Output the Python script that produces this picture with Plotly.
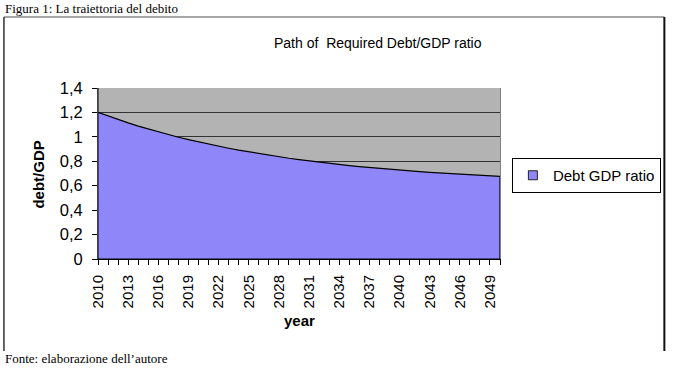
import plotly.graph_objects as go

years = list(range(2010, 2051))
debt_gdp = [1.200, 1.170, 1.141, 1.114, 1.088, 1.064, 1.040, 1.018, 0.997, 0.977,
            0.958, 0.940, 0.923, 0.907, 0.891, 0.877, 0.863, 0.850, 0.837, 0.825,
            0.814, 0.803, 0.793, 0.783, 0.774, 0.765, 0.757, 0.749, 0.741, 0.734,
            0.728, 0.721, 0.715, 0.709, 0.704, 0.699, 0.694, 0.689, 0.684, 0.680,
            0.676]
year_labels = [str(y) if (y - years[0]) % 3 == 0 else "" for y in years]
y_ticks = [0, 0.2, 0.4, 0.6, 0.8, 1.0, 1.2, 1.4]

# closed polygon (area down to zero) built from data
poly_x = years + [years[-1], years[0]]
poly_y = debt_gdp + [0, 0]

W, H = 673, 373
L, R, T, B = 98, 504, 88, 259

def px(x):
    return (x - L) / (R - L)

def py(y):
    return (B - y) / (B - T)

fill_col = "#8F87F9"

fig = go.Figure()
fig.add_trace(go.Scatter(
    x=poly_x, y=poly_y, mode="lines", fill="toself",
    fillcolor=fill_col, line=dict(color="#000000", width=1.2),
    name="Debt GDP ratio", showlegend=False,
))
# legend entry (square swatch)
fig.add_trace(go.Scatter(
    x=[None], y=[None], mode="markers", name="Debt GDP ratio",
    marker=dict(symbol="square", size=9, color=fill_col, line=dict(color="#222222", width=1)),
    showlegend=True,
))

fig.update_layout(
    width=W, height=H,
    margin=dict(l=L, r=W - R, t=T, b=H - B),
    paper_bgcolor="white", plot_bgcolor="#B3B3B3",
    separators=", ",
    font=dict(family="Liberation Sans, Arial, sans-serif", color="black", size=15),
    showlegend=True,
    legend=dict(
        x=px(516), y=py(158), xanchor="left", yanchor="top",
        bordercolor="black", borderwidth=1, bgcolor="white",
        font=dict(size=15), itemwidth=30,
    ),
    xaxis=dict(
        range=[years[0], years[-1]], tickmode="array", tickvals=years, ticktext=year_labels,
        tickangle=-90, ticks="outside", ticklen=5, tickcolor="black",
        showgrid=False, zeroline=False, showline=True, linecolor="black", linewidth=1,
        tickfont=dict(size=15), ticklabelstandoff=4,
    ),
    yaxis=dict(
        range=[0, 1.4], tickmode="array", tickvals=y_ticks,
        ticks="outside", ticklen=5, tickcolor="black",
        showgrid=True, gridcolor="#333333", gridwidth=1,
        zeroline=False, showline=True, linecolor="#808080", mirror=True,
        tickfont=dict(size=16.5), ticklabelstandoff=6,
    ),
    shapes=[
        dict(type="line", xref="paper", yref="paper", x0=0, x1=0, y0=0, y1=1,
             line=dict(color="black", width=1)),
        dict(type="line", xref="paper", yref="paper", x0=px(3), x1=px(670), y0=py(17), y1=py(17),
             line=dict(color="#888888", width=1.5)),
        dict(type="line", xref="paper", yref="paper", x0=px(3), x1=px(3), y0=py(17), y1=py(351),
             line=dict(color="#333333", width=1.5)),
        dict(type="line", xref="paper", yref="paper", x0=px(670), x1=px(670), y0=py(17), y1=py(351),
             line=dict(color="#111111", width=2)),
    ],
    annotations=[
        dict(text="Figura 1: La traiettoria del debito", xref="paper", yref="paper",
             x=px(2), y=py(8), xanchor="left", yanchor="middle", showarrow=False,
             font=dict(family="Liberation Serif, Times New Roman, serif", size=13)),
        dict(text="Fonte: elaborazione dell\u2019autore", xref="paper", yref="paper",
             x=px(2), y=py(358), xanchor="left", yanchor="middle", showarrow=False,
             font=dict(family="Liberation Serif, Times New Roman, serif", size=13)),
        dict(text="Path of  Required Debt/GDP ratio", xref="paper", yref="paper",
             x=px(381), y=py(43), xanchor="center", yanchor="middle", showarrow=False,
             font=dict(size=14)),
        dict(text="<b>debt/GDP</b>", xref="paper", yref="paper",
             x=px(37), y=py(175), xanchor="center", yanchor="middle", showarrow=False,
             textangle=-90, font=dict(size=15)),
        dict(text="<b>year</b>", xref="paper", yref="paper",
             x=px(302), y=py(320), xanchor="center", yanchor="middle", showarrow=False,
             font=dict(size=15)),
    ],
)

fig.write_html("out.html", config={"displayModeBar": False},
               post_script="document.body.style.margin='0';document.body.style.overflow='hidden';")
